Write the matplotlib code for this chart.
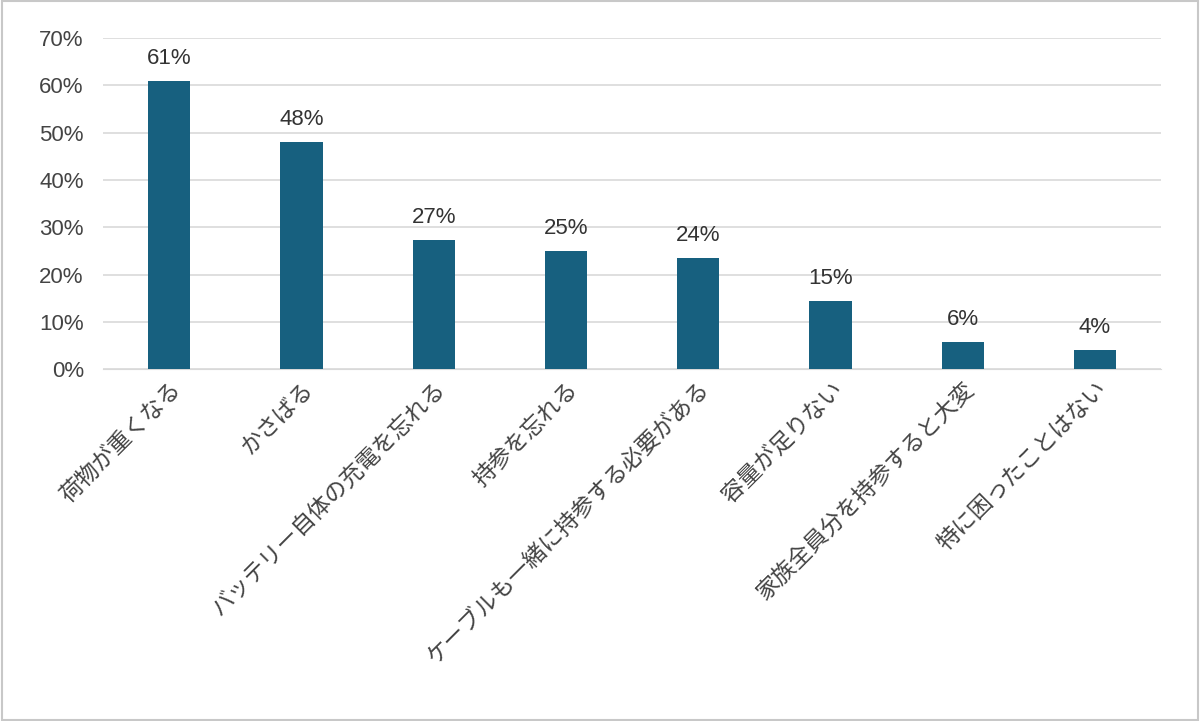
import matplotlib
matplotlib.use("Agg")
import matplotlib.pyplot as plt
from matplotlib.patches import Rectangle

plt.rcParams['font.family'] = ['Noto Sans CJK JP', 'DejaVu Sans']

categories = ["荷物が重くなる", "かさばる", "バッテリー自体の充電を忘れる", "持参を忘れる",
              "ケーブルも一緒に持参する必要がある", "容量が足りない", "家族全員分を持参すると大変", "特に困ったことはない"]
values = [61.0, 48.0, 27.3, 25.0, 23.6, 14.5, 5.7, 4.0]
labels = ["61%", "48%", "27%", "25%", "24%", "15%", "6%", "4%"]

numfont = ['Liberation Sans', 'DejaVu Sans']

fig = plt.figure(figsize=(12, 7.21), dpi=100)
ax = fig.add_axes([0.086, 0.488, 0.8815, 0.459])
fig.patches.append(Rectangle((0.002, 0.002), 0.996, 0.996, transform=fig.transFigure,
                             fill=False, edgecolor="#c8c8c8", linewidth=1.5))
x = range(len(categories))
ax.bar(x, values, width=0.32, color="#17607f", zorder=3)
for i, (v, l) in enumerate(zip(values, labels)):
    ax.text(i, v + 2.5, l, ha="center", va="bottom", fontsize=16, color="#333333", family=numfont)
ax.set_xlim(-0.5, len(categories) - 0.5)
ax.set_ylim(0, 70)
ax.set_yticks(range(0, 71, 10))
ax.set_yticklabels([f"{t}%" for t in range(0, 71, 10)], fontsize=16, color="#444444", family=numfont)
ax.yaxis.grid(True, color="#d9d9d9", linewidth=1.2, zorder=0)
ax.set_xticks(list(x))
ax.set_xticklabels(categories, rotation=45, ha="right", rotation_mode="anchor",
                   fontsize=16.5, color="#444444")
for s in ["top", "right", "left"]:
    ax.spines[s].set_visible(False)
ax.spines["bottom"].set_color("#d9d9d9")
ax.tick_params(axis="x", length=0, pad=6)
ax.tick_params(axis="y", length=0, pad=14)
fig.savefig("out.png", dpi=100)
